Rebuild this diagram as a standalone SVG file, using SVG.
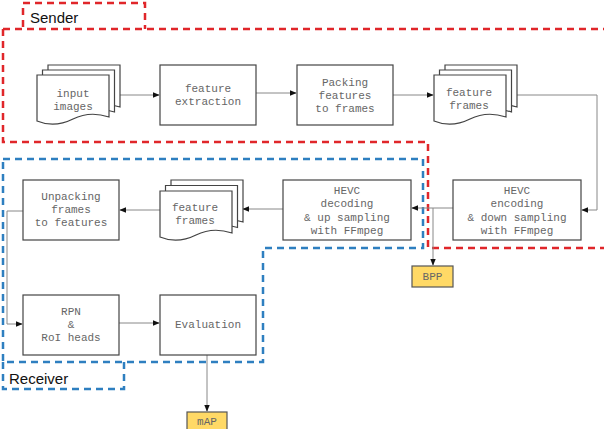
<svg xmlns="http://www.w3.org/2000/svg" width="604" height="429" viewBox="0 0 604 429">
<defs>
<style>
.box{fill:#fff;stroke:#444;stroke-width:1.2}
.doc{fill:#fff;stroke:#444;stroke-width:1.2}
.t{font-family:"Liberation Mono","Courier New",monospace;font-size:11px;fill:#666;text-anchor:middle}
.lbl{font-family:"Liberation Sans",Arial,sans-serif;font-size:15px;fill:#111}
.red{fill:none;stroke:#E0262A;stroke-width:2.5;stroke-dasharray:7 5}
.blue{fill:none;stroke:#2E7FC0;stroke-width:2.5;stroke-dasharray:7 5}
.c{fill:none;stroke:#888;stroke-width:1}
.y{fill:#FFD966;stroke:#555;stroke-width:1.2}
</style>
<marker id="ah" viewBox="0 0 10 10" refX="9" refY="5" markerWidth="7" markerHeight="7" orient="auto" markerUnits="userSpaceOnUse">
<path d="M0,1 L10,5 L0,9 Z" fill="#111"/>
</marker>
<path id="docshape" d="M0,0 H72 V42 C60,38 48,38 36,44 C24,50 12,51 0,46 Z"/>
</defs>

<g id="regions">
<path class="red" d="M23,27 V3 H145 V29"/>
<path class="red" d="M3,29 H604 M3,29 V142 H428 V248 H604"/>
<path class="blue" d="M3,159 H423 V248 H263 V362 H3 Z"/>
<path class="blue" d="M3,362 V389 H124 V362"/>
<text class="lbl" x="30" y="23">Sender</text>
<text class="lbl" x="9" y="384">Receiver</text>
</g>

<g id="connectors">
<path class="c" d="M120,95 H159" marker-end="url(#ah)"/>
<path class="c" d="M256,93 H296" marker-end="url(#ah)"/>
<path class="c" d="M393,95 H433" marker-end="url(#ah)"/>
<path class="c" d="M516,95 H597 V210 H582" marker-end="url(#ah)"/>
<path class="c" d="M453,208 H412" marker-end="url(#ah)"/>
<path class="c" d="M433,208 V265" marker-end="url(#ah)"/>
<path class="c" d="M283,209 H243" marker-end="url(#ah)"/>
<path class="c" d="M160,210 H120" marker-end="url(#ah)"/>
<path class="c" d="M23,211 H7 V324 H22" marker-end="url(#ah)"/>
<path class="c" d="M119,323 H159" marker-end="url(#ah)"/>
<path class="c" d="M207,355 V411" marker-end="url(#ah)"/>
</g>

<g id="input-images">
<use href="#docshape" class="doc" x="48" y="65"/>
<use href="#docshape" class="doc" x="42.5" y="70"/>
<use href="#docshape" class="doc" x="37" y="75"/>
<text class="t" x="73" y="97">input</text>
<text class="t" x="73" y="110">images</text>
</g>

<g id="feature-extraction">
<rect class="box" x="160" y="65" width="96" height="60"/>
<text class="t" x="208" y="92">feature</text>
<text class="t" x="208" y="105">extraction</text>
</g>

<g id="packing">
<rect class="box" x="297" y="65" width="96" height="60"/>
<text class="t" x="345" y="86">Packing</text>
<text class="t" x="345" y="99">features</text>
<text class="t" x="345" y="112">to frames</text>
</g>

<g id="feature-frames-top">
<use href="#docshape" class="doc" x="445" y="65"/>
<use href="#docshape" class="doc" x="439.5" y="70"/>
<use href="#docshape" class="doc" x="434" y="75"/>
<text class="t" x="469" y="96">feature</text>
<text class="t" x="469" y="109">frames</text>
</g>

<g id="hevc-encoding">
<rect class="box" x="453" y="180" width="128" height="60"/>
<text class="t" x="517" y="194">HEVC</text>
<text class="t" x="517" y="207">encoding</text>
<text class="t" x="517" y="221">&amp; down sampling</text>
<text class="t" x="517" y="234">with FFmpeg</text>
</g>

<g id="hevc-decoding">
<rect class="box" x="283" y="180" width="128" height="60"/>
<text class="t" x="347" y="194">HEVC</text>
<text class="t" x="347" y="207">decoding</text>
<text class="t" x="347" y="221">&amp; up sampling</text>
<text class="t" x="347" y="234">with FFmpeg</text>
</g>

<g id="bpp">
<rect class="y" x="412" y="266" width="41" height="21"/>
<text class="t" x="432.5" y="280">BPP</text>
</g>

<g id="feature-frames-bottom">
<use href="#docshape" class="doc" x="171" y="180"/>
<use href="#docshape" class="doc" x="165.5" y="185.5"/>
<use href="#docshape" class="doc" x="160" y="191"/>
<text class="t" x="195" y="211">feature</text>
<text class="t" x="195" y="224">frames</text>
</g>

<g id="unpacking">
<rect class="box" x="23" y="180" width="96" height="60"/>
<text class="t" x="71" y="200">Unpacking</text>
<text class="t" x="71" y="213">frames</text>
<text class="t" x="71" y="226">to features</text>
</g>

<g id="rpn">
<rect class="box" x="23" y="295" width="96" height="60"/>
<text class="t" x="71" y="315">RPN</text>
<text class="t" x="71" y="328">&amp;</text>
<text class="t" x="71" y="341">RoI heads</text>
</g>

<g id="evaluation">
<rect class="box" x="160" y="295" width="96" height="60"/>
<text class="t" x="208" y="328">Evaluation</text>
</g>

<g id="map">
<rect class="y" x="187" y="412" width="40" height="20"/>
<text class="t" x="207" y="425">mAP</text>
</g>
</svg>
